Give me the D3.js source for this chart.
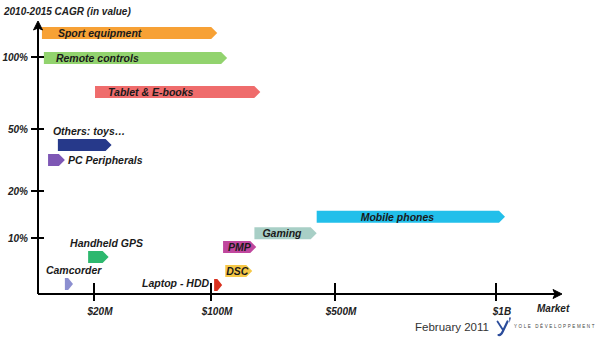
<!DOCTYPE html>
<html><head><meta charset="utf-8">
<script src="https://cdn.jsdelivr.net/npm/d3@7"></script>
<style>body{margin:0;background:#fff}svg{display:block}text{font-family:"Liberation Sans",Arial,sans-serif}</style>
</head><body><svg id="c" width="600" height="340"></svg>
<script>
// Data: market size range ($M) and 2010-2015 CAGR (%)
const categories = ["Sport equipment","Remote controls","Tablet & E-books","Others: toys…","PC Peripherals","Mobile phones","Gaming","PMP","DSC","Handheld GPS","Camcorder","Laptop - HDD"];
const marketStart = [1.4, 2.1, 20.7, 7.1, 3.6, 441, 240, 139, 146, 17.9, 9.6, 110];
const marketEnd   = [120, 152, 259, 32, 9.6, 1028, 441, 246, 233, 30, 12.5, 136];
const cagr        = [116.7, 99.3, 75.7, 42.3, 35, 14.5, 11, 8.4, 4.1, 6.6, 1.8, 1.6];
const colors = ["#F7A135","#92D36E","#EF6C6C","#26398A","#7E57B5","#22BFEA","#A8CFC6","#C0479E","#F6C847","#2DB86E","#8C8FD0","#D9301E"];
const labelPlace = ["inside","inside","inside","above","right","inside","inside","inside","inside","above","above","left"];
const labelDx    = [16, 12, 13, -5, 3, 44, 8, 5, 1, -18, -19, -5];
const xTicks = [20, 100, 500, 1000];
const xTickLabels = ["$20M","$100M","$500M","$1B"];
const yTicks = [10, 20, 50, 100];
const yTickLabels = ["10%","20%","50%","100%"];

const svg = d3.select("#c");
const x = d3.scaleLinear().domain([0,20,100,500,1000]).range([38,94,211,335,496]);
const y = d3.scaleLinear().domain([0,10,20,50,100]).range([294,238,191,129,57]);
const H = 12, TIP = 6;

// bars
const g = svg.append("g");
categories.forEach((c,i)=>{
  const x0 = x(marketStart[i]), x1 = x(marketEnd[i]), yc = y(cagr[i]);
  const t = Math.min(TIP, (x1-x0)*0.6);
  g.append("path")
    .attr("d", `M${x0},${yc-H/2}L${x1-t},${yc-H/2}L${x1},${yc}L${x1-t},${yc+H/2}L${x0},${yc+H/2}Z`)
    .attr("fill", colors[i]);
  const tx = g.append("text").text(c)
    .attr("font-size", 10.5).attr("font-weight","bold").attr("font-style","italic").attr("fill","#1a1a1a");
  if (labelPlace[i]==="inside") tx.attr("x", x0+labelDx[i]).attr("y", yc+4);
  else if (labelPlace[i]==="above") tx.attr("x", x0+labelDx[i]).attr("y", yc-10);
  else if (labelPlace[i]==="right") tx.attr("x", x1+labelDx[i]).attr("y", yc+4);
  else tx.attr("x", x0+labelDx[i]).attr("y", yc+2).attr("text-anchor","end");
});

// axes
const ax = svg.append("g").attr("stroke","#000").attr("stroke-width",2);
ax.append("line").attr("x1",38).attr("y1",294).attr("x2",558).attr("y2",294);
ax.append("line").attr("x1",38).attr("y1",294).attr("x2",38).attr("y2",26);
svg.append("path").attr("d","M562,294L553,289.5L555,294L553,298.5Z").attr("fill","#000").attr("stroke","#000").attr("stroke-width",1);
svg.append("path").attr("d","M38,21L33.5,30L38,28L42.5,30Z").attr("fill","#000").attr("stroke","#000").attr("stroke-width",1);

xTicks.forEach((v,i)=>{
  ax.append("line").attr("x1",x(v)).attr("x2",x(v)).attr("y1",283).attr("y2",301);
  svg.append("text").text(xTickLabels[i]).attr("x",x(v)+6).attr("y",315)
    .attr("text-anchor","middle").attr("font-size",10).attr("font-weight","bold").attr("font-style","italic").attr("fill","#222");
});
yTicks.forEach((v,i)=>{
  ax.append("line").attr("x1",31).attr("x2",44).attr("y1",y(v)).attr("y2",y(v));
  svg.append("text").text(yTickLabels[i]).attr("x",28).attr("y",y(v)+4)
    .attr("text-anchor","end").attr("font-size",10).attr("font-weight","bold").attr("font-style","italic").attr("fill","#222");
});

svg.append("text").text("2010-2015 CAGR (in value)").attr("x",4).attr("y",15)
  .attr("font-size",10).attr("font-weight","bold").attr("font-style","italic").attr("fill","#222");
svg.append("text").text("Market").attr("x",537).attr("y",312)
  .attr("font-size",10).attr("font-weight","bold").attr("font-style","italic").attr("fill","#222");
svg.append("text").text("February 2011").attr("x",415).attr("y",331)
  .attr("font-size",11.5).attr("fill","#333");
// logo mark drawn as shapes
const logo = svg.append("g").attr("fill","none").attr("stroke","#2B4C9B").attr("stroke-linecap","round");
logo.append("path").attr("d","M497.5,321.5L503,330").attr("stroke-width",1.8);
logo.append("path").attr("d","M507.5,321.5L503,331Q501,335.5 498.5,335").attr("stroke-width",2.2);
svg.append("path").attr("d","M509,317.5L511,317.5L509.5,323Z").attr("fill","#2B4C9B");
svg.append("text").text("YOLE DÉVELOPPEMENT").attr("x",514).attr("y",328)
  .attr("font-size",4.5).attr("letter-spacing",1.6).attr("font-family","Liberation Serif").attr("fill","#444");
</script></body></html>
